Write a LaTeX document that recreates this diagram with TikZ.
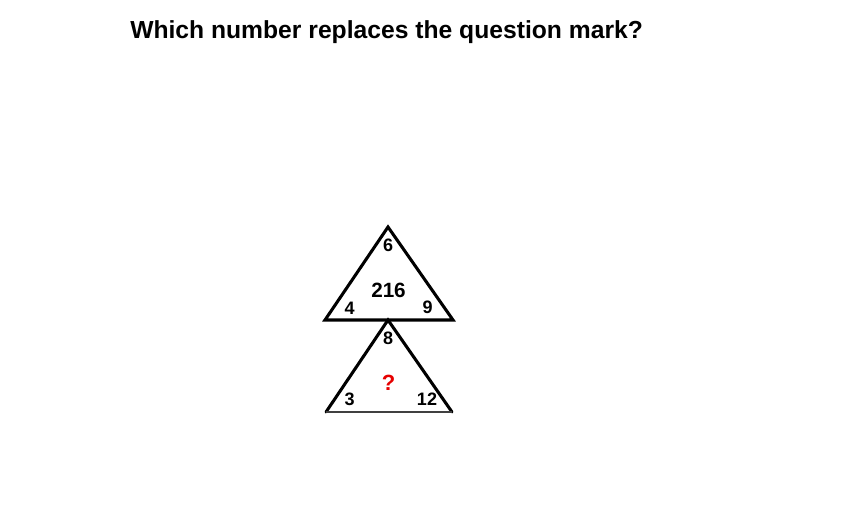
\documentclass[tikz,border=0pt]{standalone}
\usepackage{fontspec}
\setmainfont{Liberation Sans}
\usetikzlibrary{positioning}
\definecolor{cQuest}{RGB}{230,0,0}
\tikzset{
	triside/.style ={line width=2.3pt, line join=miter, line cap=round},
	tribase/.style ={line width=1.2pt, draw=black!75},
	cornernum/.style={inner sep=0pt, font=\fontsize{13.5}{15}\selectfont\bfseries},
	centrenum/.style={inner sep=0pt, font=\fontsize{15.5}{18}\selectfont\bfseries},
	quest/.style    ={inner sep=0pt, text=cQuest, font=\fontsize{16.5}{19}\selectfont\bfseries},
}
\begin{document}
\begin{tikzpicture}[x=0.75pt, y=-0.75pt]
	\useasboundingbox (0,0) rectangle (848,511);
	\node[anchor=base west, inner sep=0pt, font=\fontsize{18.5}{22}\selectfont\bfseries] (title) at (130,38) {Which number replaces the question mark?};
	% upper triangle
	\coordinate (topA) at (388,227);
	\coordinate (leftA) at (325,320);
	\coordinate (rightA) at (453,320);
	% lower triangle
	\coordinate (topB) at (388,320);
	\coordinate (leftB) at (326,412);
	\coordinate (rightB) at (452,412);
	\draw[triside] (leftB) -- (topB) -- (rightB);
	\draw[tribase] (leftB) -- (rightB);
	\draw[triside] (topA) -- (leftA) -- (rightA) -- cycle;
	\node[cornernum] (numTopA) at (388,245) {6};
	\node[cornernum] (numLeftA) at (349.5,308) {4};
	\node[cornernum] (numRightA) at (427.5,307.5) {9};
	\node[centrenum] (numMidA) at (388.5,290.5) {216};
	\node[cornernum] (numTopB) at (388,338) {8};
	\node[cornernum] (numLeftB) at (349.5,399) {3};
	\node[cornernum] (numRightB) at (427,399) {12};
	\node[quest] (numMidB) at (388.5,382.5) {?};
\end{tikzpicture}
\end{document}
